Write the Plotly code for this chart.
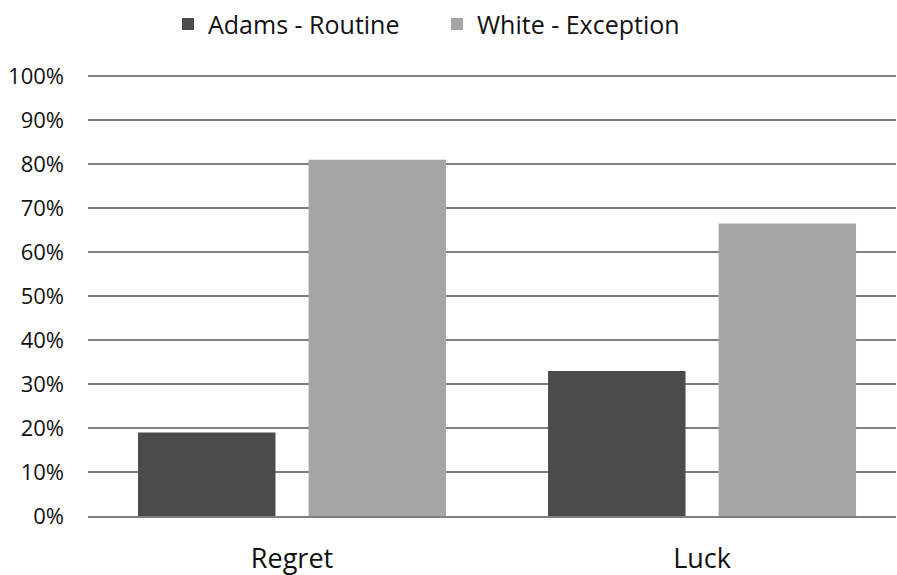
import plotly.graph_objects as go

categories = ["Regret", "Luck"]
adams_routine = [0.19, 0.33]
white_exception = [0.81, 0.665]
series_names = ["Adams - Routine", "White - Exception"]
y_ticks = [0, 0.1, 0.2, 0.3, 0.4, 0.5, 0.6, 0.7, 0.8, 0.9, 1.0]
y_tick_labels = ["0%", "10%", "20%", "30%", "40%", "50%", "60%", "70%", "80%", "90%", "100%"]

FONT = "Open Sans, Noto Sans, sans-serif"

fig = go.Figure()
fig.add_trace(go.Bar(x=categories, y=adams_routine, name=series_names[0],
                     marker=dict(color="#4b4b4b", line=dict(width=0))))
fig.add_trace(go.Bar(x=categories, y=white_exception, name=series_names[1],
                     marker=dict(color="#a5a5a5", line=dict(width=0))))

fig.update_layout(
    width=897, height=575,
    margin=dict(l=88, r=1, t=75, b=59, autoexpand=False),
    paper_bgcolor="white", plot_bgcolor="white",
    barmode="group", bargap=0.168, bargroupgap=0.194,
    font=dict(family=FONT, color="#111111"),
    legend=dict(orientation="h", x=168 / 897, xanchor="left", xref="container",
                y=0.998, yanchor="top", yref="container",
                font=dict(size=25), itemsizing="constant",
                itemwidth=30, traceorder="normal",
                entrywidth=224, entrywidthmode="pixels"),
    showlegend=True,
)
fig.update_yaxes(range=[0, 1.003], tickvals=y_ticks, ticktext=y_tick_labels,
                 showgrid=True, gridcolor="#7f7f7f", gridwidth=1.5,
                 zeroline=False, showline=False, ticks="", automargin=False,
                 tickfont=dict(size=22, color="#111111"), ticklabelstandoff=23)
fig.update_xaxes(range=[-0.4976, 1.473],
                 showline=True, linecolor="#7f7f7f", linewidth=1.5, ticks="",
                 automargin=False,
                 tickfont=dict(size=27, color="#111111"), ticklabelstandoff=18)

fig.write_html("out.html", post_script="document.body.style.margin='0px';",
               config={"displayModeBar": False})
